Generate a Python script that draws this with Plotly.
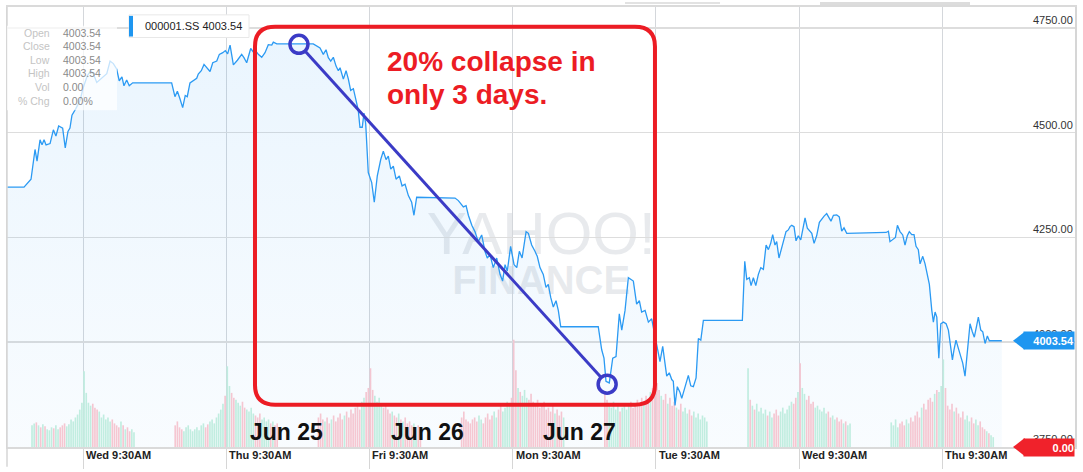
import numpy as np
import plotly.graph_objects as go

FONT = "Arial, 'Liberation Sans', Helvetica, sans-serif"

# ---------------- data ----------------
# x unit = one trading session (9:30AM-3:00PM), 0 = Wed 9:30AM
tick_pos = [0, 1, 2, 3, 4, 5, 6]
tick_labels = ["Wed 9:30AM", "Thu 9:30AM", "Fri 9:30AM", "Mon 9:30AM",
               "Tue 9:30AM", "Wed 9:30AM", "Thu 9:30AM"]
price_ticks = [3750, 4000, 4250, 4500, 4750]
price_tick_labels = ["3750.00", "4000.00", "4250.00", "4500.00", "4750.00"]

price_t = [
    -0.530, -0.412, -0.363, -0.335, -0.321, -0.300, -0.286, -0.272, -0.258, -0.230,
    -0.207, -0.189, -0.170, -0.142, -0.124, -0.105, -0.091, -0.077, -0.049, -0.021,
    0.002, 0.030, 0.054, 0.072, 0.096, 0.124, 0.147, 0.166, 0.189, 0.212,
    0.235, 0.253, 0.272, 0.286, 0.305, 0.323, 0.347, 0.619, 0.642, 0.659,
    0.677, 0.696, 0.714, 0.728, 0.747, 0.770, 0.794, 0.805, 0.826, 0.845,
    0.864, 0.887, 0.906, 0.934, 0.952, 0.976, 0.994, 1.010, 1.027, 1.050,
    1.078, 1.108, 1.124, 1.143, 1.171, 1.189, 1.201, 1.224, 1.248, 1.271,
    1.294, 1.318, 1.329, 1.353, 1.608, 1.636, 1.655, 1.678, 1.697, 1.713,
    1.730, 1.748, 1.767, 1.783, 1.795, 1.818, 1.837, 1.853, 1.869, 1.888,
    1.906, 1.922, 1.934, 1.950, 1.962, 1.974, 1.992, 2.016, 2.034, 2.055,
    2.079, 2.097, 2.116, 2.132, 2.149, 2.167, 2.186, 2.209, 2.228, 2.249,
    2.272, 2.295, 2.311, 2.330, 2.598, 2.621, 2.656, 2.675, 2.691, 2.715,
    2.737, 2.760, 2.784, 2.807, 2.823, 2.842, 2.865, 2.889, 2.912, 2.930,
    2.947, 2.963, 2.986, 3.010, 3.029, 3.047, 3.066, 3.094, 3.110, 3.133,
    3.156, 3.172, 3.191, 3.214, 3.233, 3.249, 3.266, 3.284, 3.303, 3.319,
    3.336, 3.598, 3.622, 3.638, 3.652, 3.675, 3.699, 3.722, 3.745, 3.762,
    3.785, 3.808, 3.843, 3.866, 3.885, 3.901, 3.925, 3.948, 3.971, 4.018,
    4.029, 4.048, 4.064, 4.076, 4.094, 4.111, 4.122, 4.134, 4.150, 4.169,
    4.181, 4.204, 4.227, 4.244, 4.262, 4.281, 4.297, 4.314, 4.332, 4.604,
    4.621, 4.635, 4.653, 4.665, 4.681, 4.698, 4.716, 4.733, 4.751, 4.770,
    4.786, 4.802, 4.816, 4.832, 4.844, 4.860, 4.879, 4.895, 4.909, 4.925,
    4.937, 4.949, 4.965, 4.979, 4.995, 5.012, 5.026, 5.042, 5.058, 5.077,
    5.089, 5.105, 5.123, 5.142, 5.159, 5.175, 5.193, 5.207, 5.223, 5.240,
    5.263, 5.281, 5.298, 5.314, 5.333, 5.608, 5.624, 5.635, 5.654, 5.673,
    5.687, 5.705, 5.724, 5.740, 5.756, 5.770, 5.787, 5.803, 5.817, 5.833,
    5.845, 5.864, 5.880, 5.896, 5.910, 5.927, 5.938, 5.950, 5.962, 5.976,
    5.990, 6.008, 6.027, 6.043, 6.054, 6.071, 6.082, 6.096, 6.112, 6.129,
    6.143, 6.159, 6.175, 6.194, 6.210, 6.224, 6.241, 6.252, 6.269, 6.283,
    6.299, 6.315, 6.329, 6.416,
]
price_v = [
    4370, 4370, 4389, 4460, 4432, 4483, 4471, 4483, 4471, 4474,
    4507, 4492, 4516, 4511, 4464, 4503, 4511, 4542, 4558, 4577,
    4608, 4636, 4648, 4641, 4620, 4628, 4636, 4641, 4671, 4665,
    4652, 4624, 4633, 4612, 4626, 4612, 4619, 4619, 4586, 4599,
    4581, 4560, 4589, 4586, 4619, 4624, 4630, 4640, 4648, 4663,
    4655, 4646, 4667, 4671, 4687, 4691, 4696, 4688, 4709, 4662,
    4673, 4687, 4679, 4667, 4701, 4693, 4698, 4687, 4680, 4691,
    4710, 4709, 4716, 4712, 4712, 4706, 4702, 4687, 4698, 4679,
    4671, 4680, 4659, 4648, 4655, 4628, 4648, 4628, 4601, 4605,
    4577, 4554, 4513, 4513, 4547, 4522, 4405, 4381, 4334, 4397,
    4436, 4456, 4436, 4444, 4413, 4420, 4389, 4397, 4373, 4377,
    4350, 4334, 4303, 4346, 4344, 4338, 4323, 4326, 4303, 4279,
    4264, 4240, 4256, 4217, 4201, 4209, 4178, 4201, 4162, 4146,
    4185, 4170, 4229, 4185, 4178, 4217, 4201, 4264, 4260, 4232,
    4217, 4205, 4178, 4162, 4131, 4138, 4107, 4084, 4099, 4076,
    4037, 4037, 3982, 3962, 3907, 3903, 3962, 3966, 4068, 4029,
    4076, 4154, 4146, 4091, 4099, 4072, 4076, 4048, 4056, 3966,
    3954, 3990, 3954, 3919, 3927, 3911, 3907, 3849, 3894, 3880,
    3866, 3894, 3921, 3896, 3894, 3915, 4009, 4005, 4052, 4052,
    4193, 4150, 4154, 4135, 4154, 4135, 4162, 4178, 4174, 4232,
    4221, 4236, 4257, 4232, 4240, 4201, 4225, 4244, 4264, 4268,
    4276, 4279, 4276, 4242, 4254, 4244, 4268, 4297, 4272, 4265,
    4260, 4236, 4254, 4286, 4295, 4301, 4307, 4299, 4289, 4303,
    4304, 4299, 4265, 4273, 4260, 4262, 4265, 4240, 4244, 4250,
    4279, 4264, 4256, 4232, 4254, 4264, 4257, 4257, 4229, 4221,
    4187, 4205, 4187, 4158, 4138, 4076, 4048, 4072, 4060, 3962,
    4044, 4048, 4044, 4029, 4001, 3958, 3982, 4005, 3986, 3966,
    3950, 3919, 3974, 4044, 4025, 4012, 4041, 4060, 4029, 4025,
    3997, 4015, 4003.54, 4003.54,
]

# 5-minute volume bars, 24 per half-day session (session day, "AM"/"PM")
vol_sessions = [(-1, "PM"), (0, "AM"), (0, "PM"), (1, "AM"), (1, "PM"), (2, "AM"), (2, "PM"),
                (3, "AM"), (3, "PM"), (4, "AM"), (4, "PM"), (5, "AM"), (5, "PM"), (6, "AM")]
vol_tue1_pm = [22, 24, 25, 22, 20, 23, 21, 18, 17, 20, 19, 22, 18, 20, 22, 24, 21, 23, 28, 26, 30, 33, 38, 45]
vol_wed1_am = [77, 55, 45, 42, 44, 40, 38, 36, 30, 33, 28, 30, 26, 28, 24, 22, 20, 26, 22, 18, 20, 16, 18, 15]
vol_wed1_pm = [22, 26, 20, 18, 16, 20, 22, 18, 16, 18, 20, 17, 22, 24, 20, 23, 26, 28, 24, 30, 34, 38, 44, 52]
vol_thu1_am = [82, 62, 55, 50, 48, 45, 42, 46, 40, 38, 36, 40, 34, 32, 30, 34, 28, 30, 26, 28, 24, 26, 22, 24]
vol_thu1_pm = [30, 34, 28, 26, 30, 24, 28, 32, 26, 30, 34, 28, 32, 36, 30, 38, 34, 40, 44, 38, 46, 50, 56, 60]
vol_fri_am = [80, 58, 52, 46, 50, 44, 40, 42, 38, 34, 36, 32, 30, 34, 28, 26, 30, 24, 26, 22, 24, 20, 22, 18]
vol_fri_pm = [30, 36, 28, 26, 24, 28, 30, 26, 32, 28, 24, 30, 34, 28, 32, 36, 30, 38, 42, 36, 40, 46, 44, 50]
vol_mon_am = [109, 78, 60, 56, 52, 58, 50, 48, 54, 46, 44, 48, 40, 42, 46, 38, 40, 36, 42, 34, 38, 32, 36, 30]
vol_mon_pm = [56, 48, 44, 40, 46, 38, 42, 36, 40, 44, 38, 42, 46, 40, 44, 48, 42, 50, 46, 52, 48, 56, 60, 66]
vol_tue2_am = [65, 58, 52, 48, 54, 44, 50, 42, 46, 40, 38, 44, 36, 40, 34, 38, 32, 36, 30, 34, 28, 32, 30, 26]
vol_tue2_pm = [80, 48, 42, 38, 44, 36, 40, 34, 38, 32, 36, 30, 34, 38, 32, 36, 40, 34, 38, 42, 46, 44, 50, 56]
vol_wed2_am = [85, 60, 54, 48, 52, 44, 46, 40, 42, 38, 36, 40, 34, 36, 30, 32, 28, 30, 26, 28, 24, 26, 22, 24]
vol_wed2_pm = [25, 22, 28, 20, 24, 26, 22, 28, 24, 30, 26, 32, 36, 30, 40, 44, 38, 48, 50, 46, 54, 58, 56, 62]
vol_thu2_am = [89, 60, 42, 38, 44, 36, 40, 34, 30, 36, 28, 32, 26, 30, 24, 28, 22, 26, 20, 18, 16, 14, 12, 10]
vol_values = [vol_tue1_pm, vol_wed1_am, vol_wed1_pm, vol_thu1_am, vol_thu1_pm, vol_fri_am, vol_fri_pm,
              vol_mon_am, vol_mon_pm, vol_tue2_am, vol_tue2_pm, vol_wed2_am, vol_wed2_pm, vol_thu2_am]

info_fields = ["Open", "Close", "Low", "High", "Vol", "% Chg"]
info_values = ["4003.54", "4003.54", "4003.54", "4003.54", "0.00", "0.00%"]
ticker = "000001.SS"
last_price = 4003.54
day_labels = ["Jun 25", "Jun 26", "Jun 27"]
day_label_pos = [1.418, 2.409, 3.464]

# ---------------- geometry helpers ----------------
W, H = 1083, 472
ML, MR, MT, MB = 7, 8, 5, 20
PW, PH = W - ML - MR, H - MT - MB
X_RANGE = [-0.5307, 6.927]
Y_RANGE = [3750, 4800]
VOL_RANGE = [0, PH]
SESSION_MIN = 330.0


def px_x(p):
    return (p - ML) / PW


def px_y(p):
    return (H - MB - p) / PH


# ---------------- volume bars ----------------
bar_x, bar_y, bar_c = [], [], []
for (day, half), vols in zip(vol_sessions, vol_values):
    start = 0 if half == "AM" else 210
    for i, v in enumerate(vols):
        t0 = day + (start + 5 * i) / SESSION_MIN
        t1 = day + (start + 5 * i + 5) / SESSION_MIN
        p0 = np.interp(t0, price_t, price_v)
        p1 = np.interp(t1, price_t, price_v)
        bar_x.append((t0 + t1) / 2)
        bar_y.append(v)
        bar_c.append("rgb(198,240,223)" if p1 >= p0 else "rgb(252,200,208)")

fig = go.Figure()
fig.add_trace(go.Bar(x=bar_x, y=bar_y, yaxis="y", width=0.0115,
                     marker=dict(color=bar_c, line=dict(width=0)), hoverinfo="skip"))
fig.add_trace(go.Scatter(
    x=price_t, y=price_v, yaxis="y2", mode="lines",
    line=dict(color="#2b9af3", width=1.3),
    fill="tozeroy",
    fillgradient=dict(type="vertical", start=3750, stop=4750,
                      colorscale=[[0, "rgba(43,154,243,0.03)"], [1, "rgba(43,154,243,0.10)"]]),
    hoverinfo="skip"))

shapes = []
annotations = []

# watermark
shapes.append(dict(type="rect", xref="x", yref="y2", x0=2.3, x1=4.1, y0=4364, y1=4184,
                   line=dict(width=0), fillcolor="rgba(0,0,0,0)", layer="below",
                   label=dict(text="YAHOO!", textposition="middle center",
                              font=dict(family=FONT, size=60, color="rgba(195,200,208,0.38)"))))
shapes.append(dict(type="rect", xref="x", yref="y2", x0=2.3, x1=4.1, y0=4209, y1=4109,
                   line=dict(width=0), fillcolor="rgba(0,0,0,0)", layer="below",
                   label=dict(text="<b>FINANCE</b>", textposition="middle center",
                              font=dict(family=FONT, size=40, color="rgba(195,200,208,0.38)"))))

# left border continuing under the axis
shapes.append(dict(type="line", xref="paper", yref="paper", x0=0, x1=0, y0=px_y(472), y1=1,
                   line=dict(color="#d6d6d6", width=1.5)))
# top bar fragments
shapes.append(dict(type="rect", xref="paper", yref="paper", x0=px_x(625), x1=px_x(720),
                   y0=px_y(2), y1=px_y(0), line=dict(width=0), fillcolor="#e2e2e2"))
shapes.append(dict(type="rect", xref="paper", yref="paper", x0=px_x(820), x1=px_x(970),
                   y0=px_y(3), y1=px_y(0), line=dict(width=0), fillcolor="#dcdcdc"))

# info box
shapes.append(dict(type="rect", xref="paper", yref="paper", x0=0, x1=px_x(117),
                   y0=px_y(110), y1=px_y(24), line=dict(width=0),
                   fillcolor="rgba(255,255,255,0.72)"))
for i, (f, v) in enumerate(zip(info_fields, info_values)):
    yy = px_y(31 + i * 13.8)
    annotations.append(dict(xref="paper", yref="paper", x=px_x(52), y=yy, text=f,
                            xanchor="right", yanchor="middle", showarrow=False,
                            font=dict(family=FONT, size=10.5, color="#c4c4c4")))
    annotations.append(dict(xref="paper", yref="paper", x=px_x(61), y=yy, text=v,
                            xanchor="left", yanchor="middle", showarrow=False,
                            font=dict(family=FONT, size=10.5, color="#8a8a8a")))

# legend pill
shapes.append(dict(type="rect", xref="paper", yref="paper", x0=px_x(129), x1=px_x(249),
                   y0=px_y(36), y1=px_y(13), line=dict(color="#e8e8e8", width=1),
                   fillcolor="white"))
shapes.append(dict(type="rect", xref="paper", yref="paper", x0=px_x(129), x1=px_x(133),
                   y0=px_y(35), y1=px_y(14), line=dict(width=0), fillcolor="#1e96f0"))
annotations.append(dict(xref="paper", yref="paper", x=px_x(143), y=px_y(24.5),
                        text=f"{ticker} {last_price:.2f}", xanchor="left", yanchor="middle",
                        showarrow=False, font=dict(family=FONT, size=11, color="#222")))

# red rounded box
bx0, bx1, byt, byb = 1.201, 3.994, 4753, 3851
rx, ry = 0.14, 47
box_path = (f"M {bx0+rx},{byt} L {bx1-rx},{byt} Q {bx1},{byt} {bx1},{byt-ry} "
            f"L {bx1},{byb+ry} Q {bx1},{byb} {bx1-rx},{byb} L {bx0+rx},{byb} "
            f"Q {bx0},{byb} {bx0},{byb+ry} L {bx0},{byt-ry} Q {bx0},{byt} {bx0+rx},{byt} Z")
shapes.append(dict(type="path", xref="x", yref="y2", path=box_path,
                   line=dict(color="#ec1c24", width=4)))

# blue trend line with circles
c1 = (1.508, 4711)
c2 = (3.660, 3900)
shapes.append(dict(type="line", xref="x", yref="y2", x0=1.555, y0=4693, x1=3.612, y1=3918,
                   line=dict(color="#3b3bc6", width=3)))
for cx, cy in (c1, c2):
    shapes.append(dict(type="circle", xref="x", yref="y2", xsizemode="pixel", ysizemode="pixel",
                       xanchor=cx, yanchor=cy, x0=-9, x1=9, y0=-9, y1=9,
                       line=dict(color="#3b3bc6", width=3.5)))

annotations.append(dict(xref="x", yref="y2", x=2.109, y=4671, text="<b>20% collapse in</b>",
                        xanchor="left", yanchor="middle", showarrow=False,
                        font=dict(family=FONT, size=28, color="#ec1c24")))
annotations.append(dict(xref="x", yref="y2", x=2.109, y=4591, text="<b>only 3 days.</b>",
                        xanchor="left", yanchor="middle", showarrow=False,
                        font=dict(family=FONT, size=28, color="#ec1c24")))

for lab, xp in zip(day_labels, day_label_pos):
    annotations.append(dict(xref="x", yref="y2", x=xp, y=3787, text=f"<b>{lab}</b>",
                            xanchor="center", yanchor="middle", showarrow=False,
                            font=dict(family=FONT, size=23, color="#111")))

# x tick labels
for xp, lab in zip(tick_pos, tick_labels):
    annotations.append(dict(xref="x", yref="paper", x=xp, y=0, text=f"<b>{lab}</b>",
                            xanchor="left", yanchor="top", xshift=1, showarrow=False,
                            font=dict(family=FONT, size=11, color="#222")))

# y tick labels (inside, right)
for yv, lab in zip(price_ticks, price_tick_labels):
    annotations.append(dict(xref="paper", yref="y2", x=1, y=yv, text=lab,
                            xanchor="right", yanchor="bottom", showarrow=False,
                            font=dict(family=FONT, size=11, color="#333")))

# price tag (blue) and volume tag (red)
tag_path = "M -62,0 L -51,8.5 L -50,8.5 L -50,-8.5 L -51,-8.5 Z"
shapes.append(dict(type="path", xref="x", yref="y2", xsizemode="pixel", ysizemode="pixel",
                   xanchor=X_RANGE[1], yanchor=last_price, path=tag_path,
                   line=dict(width=0), fillcolor="#1e96f0"))
annotations.append(dict(xref="paper", yref="y2", x=1, y=last_price, text=f"<b>{last_price:.2f}</b>",
                        xanchor="right", yanchor="middle", showarrow=False, align="right",
                        width=50, height=17, borderpad=0, bgcolor="#1e96f0",
                        font=dict(family=FONT, size=11, color="white")))
shapes.append(dict(type="path", xref="paper", yref="paper", xsizemode="pixel", ysizemode="pixel",
                   xanchor=1, yanchor=0, path=tag_path,
                   line=dict(width=0), fillcolor="#f0222b"))
annotations.append(dict(xref="paper", yref="paper", x=1, y=0, text="<b>0.00</b>",
                        xanchor="right", yanchor="middle", showarrow=False, align="right",
                        width=50, height=17, borderpad=0, bgcolor="#f0222b",
                        font=dict(family=FONT, size=11, color="white")))

fig.update_layout(
    width=W, height=H,
    margin=dict(l=ML, r=MR, t=MT, b=MB),
    paper_bgcolor="white", plot_bgcolor="white",
    showlegend=False,
    font=dict(family=FONT),
    xaxis=dict(range=X_RANGE, tickvals=tick_pos, showticklabels=False,
               ticks="outside", ticklen=20, tickcolor="#d6d6d6", tickwidth=1,
               showgrid=True, gridcolor="#d4d7db", gridwidth=1,
               showline=True, linecolor="#dadada", linewidth=2, mirror=True,
               zeroline=False, fixedrange=True),
    yaxis=dict(range=VOL_RANGE, showticklabels=False, showgrid=False, zeroline=False,
               showline=True, linecolor="#d6d6d6", linewidth=1.5, mirror=True, ticks=""),
    yaxis2=dict(range=Y_RANGE, overlaying="y", side="right", tickvals=price_ticks,
                showticklabels=False, showgrid=True, gridcolor="#dddddd", gridwidth=1.5,
                zeroline=False, showline=False, ticks=""),
    shapes=shapes,
    annotations=annotations,
)

fig.write_html("out.html", config={"displayModeBar": False, "staticPlot": True},
               post_script="document.body.style.margin='0';document.body.style.padding='0';")
